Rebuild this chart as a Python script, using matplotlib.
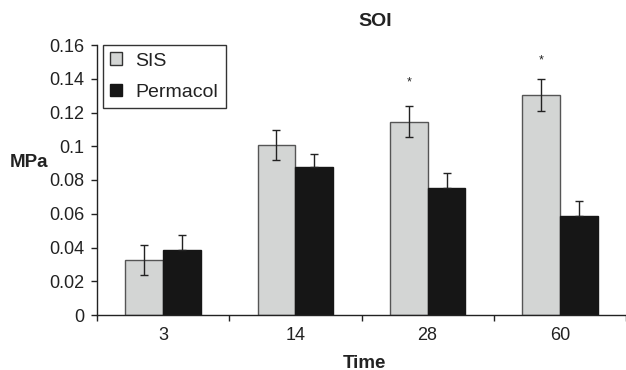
import matplotlib
matplotlib.use("Agg")
import matplotlib.pyplot as plt
import numpy as np
from matplotlib.patches import Patch

categories = ["3", "14", "28", "60"]
sis = [0.0326, 0.1007, 0.1146, 0.1304]
sis_err = [0.0090, 0.0090, 0.0090, 0.0095]
perm = [0.0383, 0.0875, 0.0751, 0.0587]
perm_err = [0.0089, 0.0081, 0.0092, 0.0087]
star_y = [None, None, 0.1377, 0.1511]

plt.rcParams['font.family'] = ['Liberation Sans', 'DejaVu Sans']

fig = plt.figure(figsize=(6.26, 3.70), dpi=100)
ax = fig.add_axes([97/626, 1-315/370, 1-97/626, 270/370])

x = np.arange(len(categories))
w = 0.286
sis_col = '#d3d5d4'
perm_col = '#161616'
ax.bar(x - w/2, sis, w, color=sis_col, edgecolor='#555555', linewidth=1.0, zorder=2)
ax.bar(x + w/2, perm, w, color=perm_col, edgecolor=perm_col, linewidth=1.0, zorder=2)
ax.errorbar(x - w/2, sis, yerr=sis_err, fmt='none', ecolor='#222222', elinewidth=1.0,
            capsize=3, capthick=1.0, zorder=3)
ax.errorbar(x + w/2, perm, yerr=[[0] * len(perm), perm_err], fmt='none', ecolor='#222222',
            elinewidth=1.0, capsize=3, capthick=1.0, zorder=3)
for xi, sy in zip(x, star_y):
    if sy is not None:
        ax.text(xi - w/2, sy, '*', ha='center', va='center', fontsize=9, color='#222222')

ax.set_xlim(-0.5, 3.5)
ax.set_ylim(0, 0.16)
ax.set_yticks(np.arange(0, 0.161, 0.02))
ax.set_yticklabels(['0', '0.02', '0.04', '0.06', '0.08', '0.1', '0.12', '0.14', '0.16'])
ax.set_xticks(x)
ax.set_xticklabels(categories)
ax.set_xticks(np.arange(-0.5, 3.6, 1.0), minor=True)
ax.tick_params(axis='x', which='major', length=0, pad=9, labelsize=13, colors='#222222')
ax.tick_params(axis='x', which='minor', length=4, width=1, direction='out', color='#222222')
ax.tick_params(axis='y', length=4, width=1, direction='out', labelsize=13, colors='#222222', pad=5)

for s in ['top', 'right']:
    ax.spines[s].set_visible(False)
for s in ['left', 'bottom']:
    ax.spines[s].set_linewidth(1.0)
    ax.spines[s].set_color('#222222')

fig.text(10/626, 1-163/370, 'MPa', fontsize=13.5, fontweight='bold', ha='left', va='center', color='#222222')
fig.text(364/626, 1-363/370, 'Time', fontsize=13.5, fontweight='bold', ha='center', va='center', color='#222222')
fig.text(375/626, 1-22/370, 'SOI', fontsize=14, fontweight='bold', ha='center', va='center', color='#222222')

handles = [Patch(facecolor=sis_col, edgecolor='#333333', linewidth=1.0),
           Patch(facecolor=perm_col, edgecolor=perm_col, linewidth=1.0)]
leg = fig.legend(handles, ['SIS', 'Permacol'], loc='upper left',
                 bbox_to_anchor=(103/626, 1-45/370), borderaxespad=0,
                 fontsize=14, fancybox=False, framealpha=1, edgecolor='#333333',
                 handlelength=0.62, handleheight=0.62, handletextpad=0.67,
                 labelspacing=0.72, borderpad=0.38)
leg.get_frame().set_linewidth(1.0)
for t in leg.get_texts():
    t.set_color('#222222')

fig.savefig('out.png', dpi=100)
